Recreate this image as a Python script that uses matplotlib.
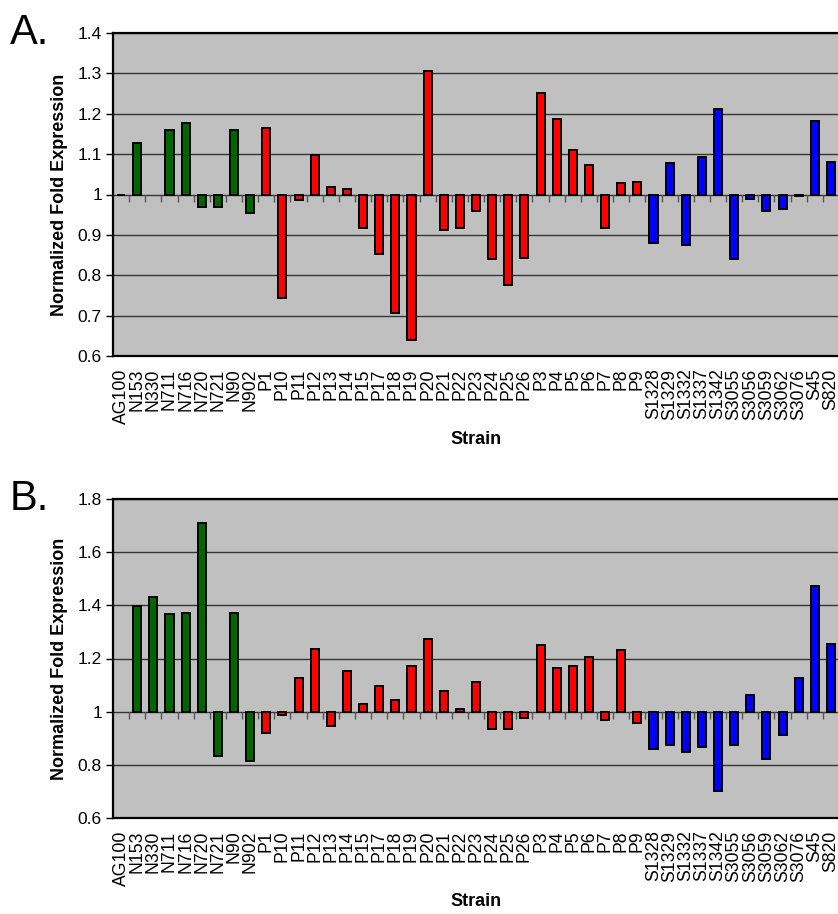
"""Normalized fold expression per strain, two panels (A and B)."""

import matplotlib

matplotlib.use("Agg")
import matplotlib.pyplot as plt
import numpy as np

plt.rcParams["font.family"] = ["Liberation Sans", "DejaVu Sans"]

STRAINS = [
    "AG100", "N153", "N330", "N711", "N716", "N720", "N721", "N90", "N902",
    "P1", "P10", "P11", "P12", "P13", "P14", "P15", "P17", "P18", "P19",
    "P20", "P21", "P22", "P23", "P24", "P25", "P26", "P3", "P4", "P5", "P6",
    "P7", "P8", "P9", "S1328", "S1329", "S1332", "S1337", "S1342", "S3055",
    "S3056", "S3059", "S3062", "S3076", "S45", "S820",
]

# panel A (nan = no bar drawn)
FOLD_A = [
    0.998, 1.128, np.nan, 1.159, 1.177, 0.969, 0.968, 1.159, 0.955,
    1.165, 0.744, 0.986, 1.099, 1.018, 1.014, 0.917, 0.852, 0.706, 0.640,
    1.307, 0.913, 0.916, 0.960, 0.841, 0.776, 0.843, 1.252, 1.186, 1.111, 1.073,
    0.917, 1.028, 1.031, 0.881, 1.079, 0.875, 1.093, 1.212, 0.841,
    0.990, 0.960, 0.965, 0.997, 1.181, 1.081,
]

# panel B
FOLD_B = [
    np.nan, 1.398, 1.432, 1.367, 1.373, 1.710, 0.834, 1.372, 0.815,
    0.921, 0.989, 1.126, 1.236, 0.946, 1.152, 1.030, 1.098, 1.044, 1.173,
    1.275, 1.079, 1.011, 1.113, 0.933, 0.933, 0.975, 1.251, 1.166, 1.173, 1.207,
    0.969, 1.233, 0.956, 0.859, 0.873, 0.849, 0.868, 0.701, 0.873,
    1.063, 0.821, 0.912, 1.126, 1.473, 1.256,
]

GROUP_COLORS = {"A": "#006600", "N": "#006600", "P": "#FF0000", "S": "#0000FF"}


def panel(ax, values, ylim, ystep, letter):
    x = np.arange(len(STRAINS))
    vals = np.asarray(values, dtype=float)
    colors = [GROUP_COLORS[s[0]] for s in STRAINS]
    ax.set_facecolor("#C0C0C0")
    ax.set_axisbelow(True)
    ax.grid(axis="y", color="#353535", lw=1.0)
    ax.bar(x, vals - 1.0, bottom=1.0, width=0.5, color=colors,
           edgecolor="black", linewidth=1.4, zorder=3)
    # category tick marks sitting on the y = 1 crossing line
    ax.plot(x[:-1] + 0.5, np.ones(len(x) - 1), linestyle="none", marker=3,
            ms=5, mew=1.0, color="#555555", zorder=2)
    ax.set_xlim(-0.5, len(x) - 0.5)
    ax.set_ylim(*ylim)
    ticks = np.arange(ylim[0], ylim[1] + ystep / 2, ystep)
    ax.set_yticks(ticks)
    ax.set_yticklabels([f"{t:g}" for t in np.round(ticks, 1)], fontsize=12.5)
    ax.set_xticks(x)
    ax.set_xticklabels(STRAINS, rotation=90, fontsize=12.7, va="top",
                       ha="center")
    ax.tick_params(axis="x", length=0, pad=9)
    ax.tick_params(axis="y", length=5, width=1.0, pad=3)
    for sp in ax.spines.values():
        sp.set_linewidth(1.6)
    ax.spines["right"].set_visible(False)
    ax.set_ylabel("Normalized Fold Expression", fontsize=13,
                  fontweight="bold", labelpad=7)
    ax.set_xlabel("Strain", fontsize=13, fontweight="bold", labelpad=5)
    ax.text(-0.142, 1.0, letter, transform=ax.transAxes, fontsize=30,
            va="center", ha="left")


fig = plt.figure(figsize=(8.38, 9.14), dpi=100)
ax_a = fig.add_axes([113 / 838, (914 - 356) / 914, 726 / 838, 323 / 914])
ax_b = fig.add_axes([113 / 838, (914 - 818) / 914, 726 / 838, 319 / 914])
panel(ax_a, FOLD_A, (0.6, 1.4), 0.1, "A.")
panel(ax_b, FOLD_B, (0.6, 1.8), 0.2, "B.")
fig.savefig("out.png", dpi=100)
